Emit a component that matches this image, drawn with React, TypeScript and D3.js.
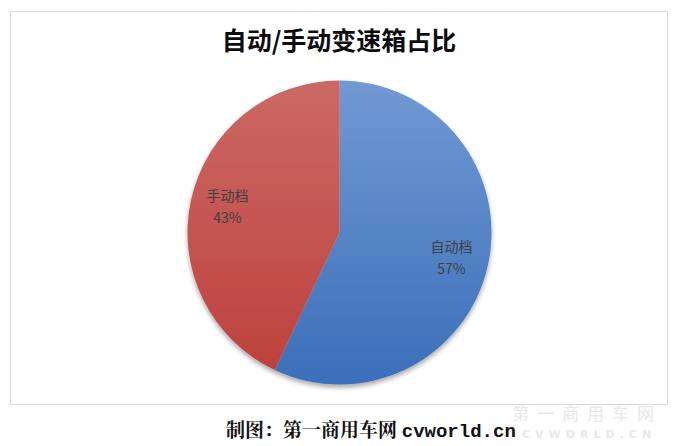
import React from "react";
import * as d3 from "d3";

const categories = ["自动档", "手动档"];
const values = [57, 43];
const labels = ["57%", "43%"];
const title = "自动/手动变速箱占比";
const footerCn = "制图：第一商用车网 ";
const footerEn = "cvworld.cn";

const W = 676;
const H = 446;
const cx = 339.5;
const cy = 232.5;
const R = 152;

const grads = [
  { id: "gBlue", top: "#7199d2", bottom: "#3b6fba" },
  { id: "gRed", top: "#cc6964", bottom: "#bc403c" },
];

export default function App() {
  const pie = d3.pie<number>().sort(null).startAngle(0).endAngle(2 * Math.PI);
  const arcs = pie(values);
  const arc = d3.arc<d3.PieArcDatum<number>>().innerRadius(0).outerRadius(R);
  const labelArc = d3.arc<d3.PieArcDatum<number>>().innerRadius(R * 0.755).outerRadius(R * 0.755);

  return (
    <svg width={W} height={H} style={{ position: "absolute", left: 0, top: 0, background: "#fff" }}>
      <defs>
        {grads.map((g) => (
          <linearGradient key={g.id} id={g.id} x1="0" y1={-R} x2="0" y2={R} gradientUnits="userSpaceOnUse">
            <stop offset="0" stopColor={g.top} />
            <stop offset="1" stopColor={g.bottom} />
          </linearGradient>
        ))}
        <filter id="shadow" x="-20%" y="-20%" width="140%" height="140%">
          <feGaussianBlur in="SourceAlpha" stdDeviation="2.5" />
          <feOffset dx="0" dy="3" result="b" />
          <feComponentTransfer>
            <feFuncA type="linear" slope="0.35" />
          </feComponentTransfer>
          <feMerge>
            <feMergeNode />
            <feMergeNode in="SourceGraphic" />
          </feMerge>
        </filter>
      </defs>
      <rect x={10.5} y={11.5} width={657} height={393} fill="#fff" stroke="#d9d9d9" strokeWidth={1} />
      <text x={339} y={50} textAnchor="middle" fontFamily="'Noto Sans CJK SC', sans-serif" fontWeight="bold" fontSize={25} fill="#0d0d0d">
        {title}
      </text>
      <g transform={`translate(${cx},${cy})`} filter="url(#shadow)">
        {arcs.map((a, i) => (
          <path key={categories[i]} d={arc(a) || ""} fill={`url(#${grads[i].id})`} />
        ))}
      </g>
      <g transform={`translate(${cx},${cy})`}>
        {arcs.map((a, i) => {
          const [lx, ly] = labelArc.centroid(a);
          return (
            <text key={categories[i]} x={lx} y={ly} textAnchor="middle" fontFamily="'Noto Sans CJK SC', sans-serif" fontSize={14} fill="#404040">
              <tspan x={lx} dy={-6}>{categories[i]}</tspan>
              <tspan x={lx} dy={22}>{labels[i]}</tspan>
            </text>
          );
        })}
      </g>
      <text x={226} y={437} fontFamily="'Noto Serif CJK SC', 'Noto Sans CJK SC', serif" fontWeight="bold" fontSize={19} fill="#111">
        {footerCn}
        <tspan fontFamily="'Liberation Mono', 'DejaVu Sans Mono', monospace" fontSize={19}>{footerEn}</tspan>
      </text>
      <text x={512} y={420} fontFamily="'Noto Sans CJK SC', sans-serif" fontSize={17} fill="#e8e8e8" letterSpacing={8}>
        第一商用车网
      </text>
      <text x={522} y={438} fontFamily="'DejaVu Sans', sans-serif" fontWeight="bold" fontSize={11} fill="#e8e8e8" letterSpacing={5}>
        CVWORLD.CN
      </text>
    </svg>
  );
}
